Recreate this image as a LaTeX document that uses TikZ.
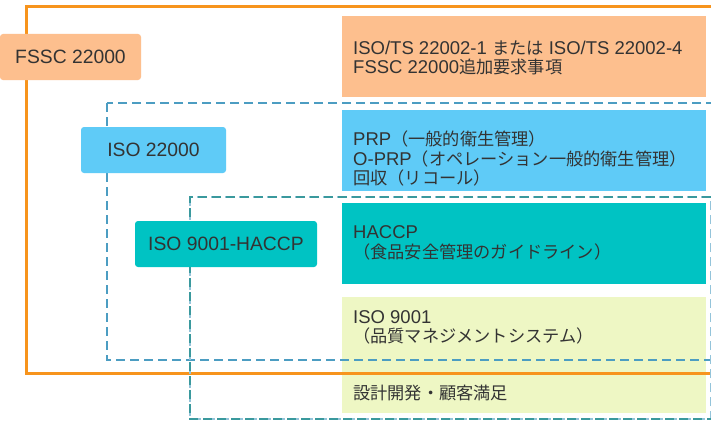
\documentclass[tikz,border=0pt]{standalone}
\usepackage{fontspec}
\setmainfont{Liberation Sans}
\newfontfamily\jpfont[Scale=0.93]{Noto Sans CJK JP}
\newcommand{\jp}[1]{{\jpfont #1}}
\definecolor{frameorange}{HTML}{F7941D}
\definecolor{peach}{HTML}{FDBF8E}
\definecolor{skyblue}{HTML}{5FCBF7}
\definecolor{tealfill}{HTML}{00C3C3}
\definecolor{paleyellow}{HTML}{EEF7C4}
\definecolor{bluedash}{HTML}{4C9DC2}
\definecolor{tealdash}{HTML}{3A999D}
\definecolor{txt}{HTML}{333333}
\tikzset{
  x=1pt, y=-1pt,
  band/.style={draw=none, anchor=north west, inner sep=0, minimum width=364},
  tag/.style={rounded corners=3pt, inner sep=0, minimum height=46, text=txt,
              font=\fontsize{19.3}{22}\selectfont},
  bandtext/.style={anchor=west, inner sep=0, align=left, text=txt,
                   font=\fontsize{18.5}{19.6}\selectfont},
  dashline/.style={line width=2pt, dash pattern=on 9pt off 5pt},
}
\begin{document}
\begin{tikzpicture}
\useasboundingbox (0,0) rectangle (711,420);
\clip (0,0) rectangle (711,420);
\fill[white] (0,0) rectangle (711,420);

% coloured bands on the right
\node[band, fill=peach, minimum height=81] (fsscband) at (342,16) {};
\node[band, fill=skyblue, minimum height=81] (isoband) at (342,110) {};
\node[band, fill=tealfill, minimum height=81] (haccpband) at (342,203) {};
\node[band, fill=paleyellow, minimum height=116] (qmsband) at (342,297) {};

% scope frames (right sides run off the page edge)
\draw[frameorange, line width=3pt] (26,7) rectangle (716,373);
\draw[bluedash, dashline] (107,103) rectangle (714,360);
\draw[bluedash!60, dashline, line width=1.5pt] (190,197) rectangle (711,419);
\draw[tealdash, dashline] (711,197) -- (190,197) -- (190,419) -- (711,419);

% band texts
\node[bandtext] (fssctext) at (353,58)
  {ISO/TS 22002-1 \jp{または} ISO/TS 22002-4\\FSSC 22000\jp{追加要求事項}};
\node[bandtext] (isotext) at (353,158.5)
  {PRP\jp{（一般的衛生管理）}\\O-PRP\jp{（オペレーション一般的衛生管理）}\\\jp{回収（リコール）}};
\node[bandtext] (haccptext) at (353,243)
  {HACCP\\\jp{（食品安全管理のガイドライン）}};
\node[bandtext] (qmstext) at (353,327.5)
  {ISO 9001\\\jp{（品質マネジメントシステム）}};
\node[bandtext] (designtext) at (353,393)
  {\jp{設計開発・顧客満足}};

% scope tags
\node[tag, fill=peach, minimum width=141] (fssctag) at (70.5,57) {FSSC 22000};
\node[tag, fill=skyblue, minimum width=145] (isotag) at (153.5,150) {ISO 22000};
\node[tag, fill=tealfill, minimum width=182] (haccptag) at (226,244) {ISO 9001-HACCP};
\end{tikzpicture}
\end{document}
